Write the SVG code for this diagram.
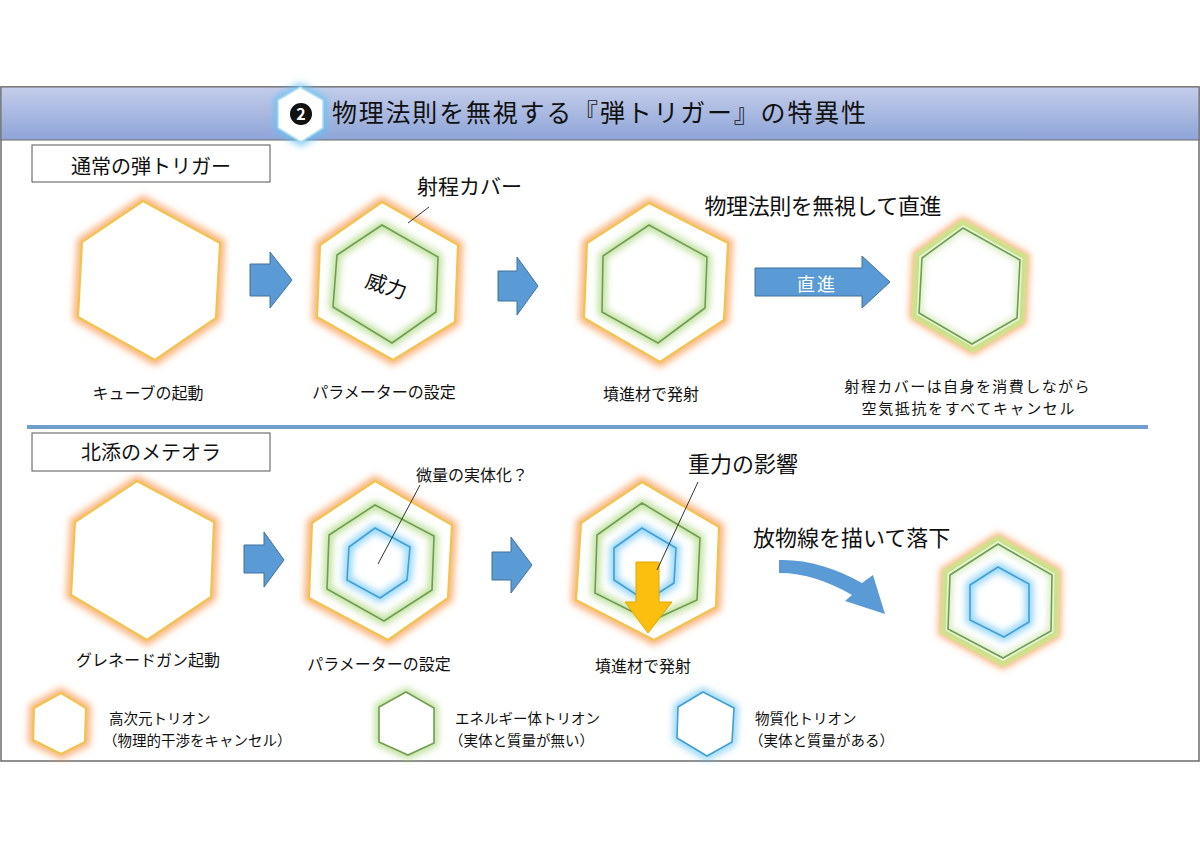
<svg xmlns="http://www.w3.org/2000/svg" width="1200" height="849" viewBox="0 0 1200 849">
<defs>
<linearGradient id="hdr" x1="0" y1="0" x2="0" y2="1">
<stop offset="0" stop-color="#c4cdea"/>
<stop offset="1" stop-color="#8da4d7"/>
</linearGradient>
<filter id="bl" x="-30%" y="-30%" width="160%" height="160%"><feGaussianBlur stdDeviation="3.5"/></filter>
<style>
.t{font-family:'Noto Sans CJK JP','Noto Sans',sans-serif;fill:#111}
.c{text-anchor:middle}
.og{fill:none;stroke:#f59a4f;stroke-width:10;stroke-opacity:.75;filter:url(#bl)}
.ol{fill:#fff;stroke:#f3c34e;stroke-width:2.2}
.cv{fill:#fff;stroke:#d5e38e;stroke-width:5}
.gg{fill:none;stroke:#9fd26e;stroke-width:8;stroke-opacity:.7;filter:url(#bl)}
.gl{fill:none;stroke:#6f9e4f;stroke-width:1.6}
.glf{fill:#fff;stroke:#6f9e4f;stroke-width:1.6}
.bg{fill:none;stroke:#5ec0f2;stroke-width:8;stroke-opacity:.7;filter:url(#bl)}
.bln{fill:none;stroke:#3f9fd6;stroke-width:1.6}
.blf{fill:#fff;stroke:#3f9fd6;stroke-width:1.6}
.ba{fill:#5b9bd5;stroke:#41719c;stroke-width:1}
.ld{stroke:#333;stroke-width:1;fill:none}
.lab{font-size:16px}
.leg{font-size:14.5px}
</style>
</defs>
<rect width="1200" height="849" fill="#fff"/>
<g id="frame">
<rect x="1" y="87" width="1198" height="674" fill="#fff" stroke="#6b6b6b" stroke-width="1.5"/>
<rect x="1" y="87" width="1198" height="53" fill="url(#hdr)" stroke="#6b6b6b" stroke-width="1"/>
<line x1="27" y1="427" x2="1148" y2="427" stroke="#6f9fd0" stroke-width="4"/>
</g>
<g id="title">
<polygon points="300,87 323,100 323,128 301,142 278,128 278,100" fill="none" stroke="#66c2f2" stroke-width="8" stroke-opacity=".8" filter="url(#bl)"/>
<polygon points="300,87 323,100 323,128 301,142 278,128 278,100" fill="#fff" stroke="#a8dcf5" stroke-width="1.5"/>
<circle cx="301" cy="114" r="11" fill="#111"/>
<text class="t c" x="301" y="120" font-size="16" font-weight="bold" style="fill:#fff">2</text>
<text class="t" x="332" y="122" font-size="25" textLength="534" lengthAdjust="spacing">物理法則を無視する『弾トリガー』の特異性</text>
</g>
<g id="box-normal">
<rect x="32" y="145" width="238" height="37" fill="#fff" stroke="#555" stroke-width="1"/>
<text class="t c" x="151" y="174" font-size="20">通常の弾トリガー</text>
</g>
<g id="box-meteora">
<rect x="32" y="433" width="238" height="38" fill="#fff" stroke="#555" stroke-width="1"/>
<text class="t c" x="151" y="460" font-size="20">北添のメテオラ</text>
</g>

<g id="n1">
<polygon class="og" points="143,201 220,243 216,318 155,360 78,317 82,242"/>
<polygon class="ol" points="143,201 220,243 216,318 155,360 78,317 82,242"/>
<text class="t c lab" x="148" y="399">キューブの起動</text>
</g>
<g id="n2">
<polygon class="og" points="382,202 458,245 455,322 393,360 317,317 320,245"/>
<polygon class="ol" points="382,202 458,245 455,322 393,360 317,317 320,245"/>
<polygon class="gg" points="382,225 438,257 436,312 392,343 333,307 337,255"/>
<polygon class="gl" points="382,225 438,257 436,312 392,343 333,307 337,255"/>
<text class="t c" font-size="21" transform="translate(384,293) rotate(18)">威力</text>
<text class="t" x="417" y="194" font-size="21">射程カバー</text>
<text class="t c lab" x="384" y="398">パラメーターの設定</text>
</g>
<g id="n3">
<polygon class="og" points="649,203 728,243 724,320 660,362 584,318 587,243"/>
<polygon class="ol" points="649,203 728,243 724,320 660,362 584,318 587,243"/>
<polygon class="gg" points="649,225 707,257 705,308 658,343 602,312 603,256"/>
<polygon class="gl" points="649,225 707,257 705,308 658,343 602,312 603,256"/>
<text class="t c lab" x="651" y="400">墳進材で発射</text>
</g>
<g id="n4">
<text class="t c" x="823" y="214" font-size="22" textLength="237" lengthAdjust="spacing">物理法則を無視して直進</text>
<polygon class="og" points="963,222 1025,257 1022,321 973,350 914,316 917,255"/>
<polygon class="cv" points="963,222 1025,257 1022,321 973,350 914,316 917,255"/>
<polygon class="gg" points="963,228 1020,260 1017,318 972,344 919,313 922,258" style="stroke-width:4"/>
<polygon class="gl" points="963,228 1020,260 1017,318 972,344 919,313 922,258"/>
<text class="t c" x="967" y="392" font-size="15" textLength="245" lengthAdjust="spacing">射程カバーは自身を消費しながら</text>
<text class="t c" x="968" y="414" font-size="15" textLength="213" lengthAdjust="spacing">空気抵抗をすべてキャンセル</text>
</g>

<g id="n5">
<polygon class="og" points="137,481 214,522 211,597 147,640 71,595 75,522"/>
<polygon class="ol" points="137,481 214,522 211,597 147,640 71,595 75,522"/>
<text class="t c lab" x="148" y="666">グレネードガン起動</text>
</g>
<g id="n6">
<polygon class="og" points="375,481 452,525 448,598 388,640 309,598 312,523"/>
<polygon class="ol" points="375,481 452,525 448,598 388,640 309,598 312,523"/>
<polygon class="gg" points="375,505 434,536 432,590 384,621 327,589 329,535"/>
<polygon class="gl" points="375,505 434,536 432,590 384,621 327,589 329,535"/>
<polygon class="bg" points="375,528 410,547 407,580 380,598 347,580 349,547"/>
<polygon class="bln" points="375,528 410,547 407,580 380,598 347,580 349,547"/>
<text class="t" x="416" y="481" font-size="16">微量の実体化？</text>
<text class="t c lab" x="379" y="670">パラメーターの設定</text>
</g>
<g id="n7">
<polygon class="og" points="642,482 719,527 716,607 654,640 576,600 581,523"/>
<polygon class="ol" points="642,482 719,527 716,607 654,640 576,600 581,523"/>
<polygon class="gg" points="642,503 700,538 697,600 651,621 595,593 597,535"/>
<polygon class="gl" points="642,503 700,538 697,600 651,621 595,593 597,535"/>
<polygon class="bg" points="642,528 676,548 674,583 646,601 614,580 614,548"/>
<polygon class="bln" points="642,528 676,548 674,583 646,601 614,580 614,548"/>
<polygon points="636,562 659,562 659,602 672,602 648,633 625,602 636,602" fill="#fcbf10" stroke="#e0a800" stroke-width="1"/>
<text class="t" x="688" y="472" font-size="22">重力の影響</text>
<text class="t c lab" x="643" y="672">墳進材で発射</text>
</g>
<g id="n8">
<text class="t" x="753" y="546" font-size="22">放物線を描いて落下</text>
<polygon class="og" points="998,538 1057,572 1056,634 1003,664 943,632 945,572"/>
<polygon class="cv" points="998,538 1057,572 1056,634 1003,664 943,632 945,572"/>
<polygon class="gg" points="998,544 1052,575 1051,631 1003,658 948,629 950,575" style="stroke-width:4"/>
<polygon class="gl" points="998,544 1052,575 1051,631 1003,658 948,629 950,575"/>
<polygon class="bg" points="998,567 1029,584 1029,622 1004,637 970,620 970,585"/>
<polygon class="bln" points="998,567 1029,584 1029,622 1004,637 970,620 970,585"/>
</g>

<g id="connectors">
<polygon class="ba" points="250,264 270,264 270,252 292,280 270,308 270,296 250,296"/>
<polygon class="ba" points="498,271 517,271 517,257 538,286 517,315 517,301 498,301"/>
<polygon class="ba" points="755,268 862,268 862,256 890,282 862,308 862,296 755,296"/>
<text class="t c" x="817" y="291" font-size="18" letter-spacing="2" style="fill:#fff">直進</text>
<polygon class="ba" points="244,545 264,545 264,532 284,560 264,587 264,573 244,573"/>
<polygon class="ba" points="492,552 511,552 511,537 532,565 511,593 511,580 492,580"/>
<path d="M779,560 C806,559 836,568 862,583 L873,575 L885,614 L845,601 L852,595 C828,581 804,573 779,573 Z" fill="#5b9bd5"/>
<line class="ld" x1="429" y1="207" x2="408" y2="223"/>
<line class="ld" x1="420" y1="485" x2="378" y2="564"/>
<line class="ld" x1="698" y1="482" x2="657" y2="570"/>
</g>

<g id="legend-orange">
<polygon class="og" points="61,693 86,708 85,742 61,754 33,740 34,708"/>
<polygon class="ol" points="61,693 86,708 85,742 61,754 33,740 34,708"/>
<text class="t leg" x="109" y="724">高次元トリオン</text>
<text class="t leg" x="103" y="746">（物理的干渉をキャンセル）</text>
</g>
<g id="legend-green">
<polygon class="gg" points="406,692 434,708 434,743 408,755 379,742 379,707"/>
<polygon class="glf" points="406,692 434,708 434,743 408,755 379,742 379,707"/>
<text class="t leg" x="455" y="724">エネルギー体トリオン</text>
<text class="t leg" x="449" y="746">（実体と質量が無い）</text>
</g>
<g id="legend-blue">
<polygon class="bg" points="703,692 734,708 732,742 707,756 677,738 678,707"/>
<polygon class="blf" points="703,692 734,708 732,742 707,756 677,738 678,707"/>
<text class="t leg" x="755" y="724">物質化トリオン</text>
<text class="t leg" x="749" y="746">（実体と質量がある）</text>
</g>
</svg>
